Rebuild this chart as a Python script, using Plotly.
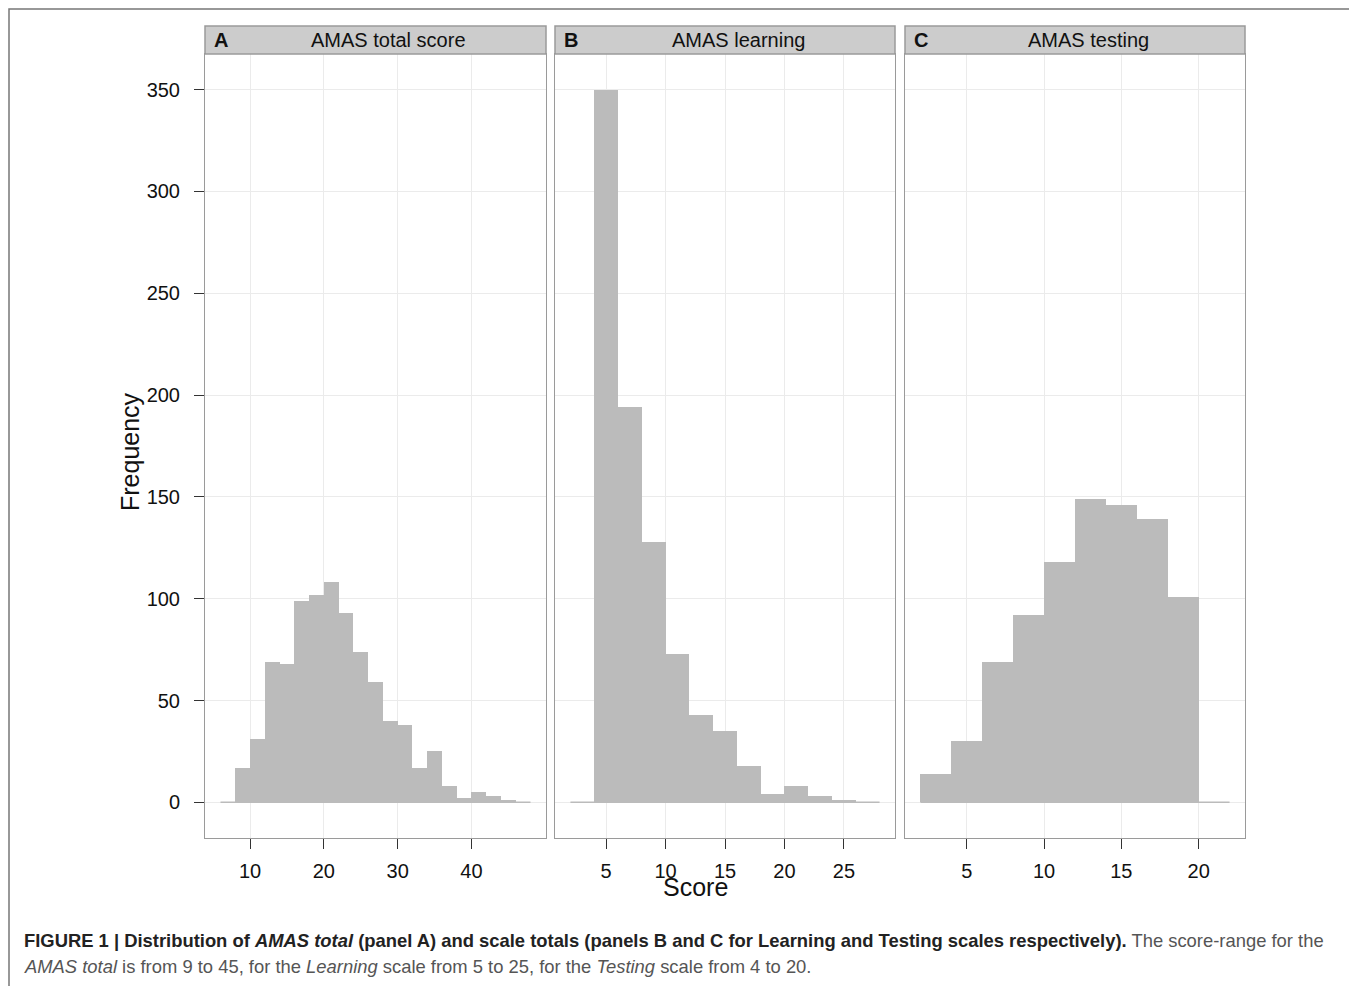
import plotly.graph_objects as go

# ---- data ----
a_bin_edges = [6, 8, 10, 12, 14, 16, 18, 20, 22, 24, 26, 28, 30, 32, 34, 36, 38, 40, 42, 44, 46, 48]
a_counts = [0, 17, 31, 69, 68, 99, 102, 108, 93, 74, 59, 40, 38, 17, 25, 8, 2, 5, 3, 1, 0]

b_bin_edges = [2, 4, 6, 8, 10, 12, 14, 16, 18, 20, 22, 24, 26, 28]
b_counts = [0, 350, 194, 128, 73, 43, 35, 18, 4, 8, 3, 1, 0]

c_bin_edges = [2, 4, 6, 8, 10, 12, 14, 16, 18, 20, 22]
c_counts = [14, 30, 69, 92, 118, 149, 146, 139, 101, 0]

panel_letters = ["A", "B", "C"]
panel_titles = ["AMAS total score", "AMAS learning", "AMAS testing"]
a_ticks = [10, 20, 30, 40]
b_ticks = [5, 10, 15, 20, 25]
c_ticks = [5, 10, 15, 20]
y_ticks = [0, 50, 100, 150, 200, 250, 300, 350]

x_label = "Score"
y_label = "Frequency"
caption_line1 = ("<b>FIGURE 1 | Distribution of <i>AMAS total</i> (panel A) and scale totals "
                 "(panels B and C for Learning and Testing scales respectively).</b>"
                 "<span style='color:#555555'> The score-range for the</span>")
caption_line2 = ("<i>AMAS total</i> is from 9 to 45, for the <i>Learning</i> scale from 5 to 25, "
                 "for the <i>Testing</i> scale from 4 to 20.")

# ---- layout geometry (page pixels; the page body adds an 8px offset) ----
OFF = 8
W, H = 1349, 978
PL, PR, PT, PB = 205, 1245, 54, 838          # plot area in page pixels
L = PL - OFF
T = PT - OFF
R = W - (PR - OFF)
B = H - (PB - OFF)
PW = W - L - R
PH = H - T - B


def px_x(px):
    return (px - OFF - L) / PW


def px_y(py):
    return (PB - py) / PH


BAR = "#bbbbbb"
GRID = "#ebebeb"
BORDER = "#9a9a9a"
FONT = "Liberation Sans, Arial, Helvetica, sans-serif"

panels = [
    (a_bin_edges, a_counts, a_ticks, [3.9, 50.1], (205, 546)),
    (b_bin_edges, b_counts, b_ticks, [0.7, 29.3], (555, 895)),
    (c_bin_edges, c_counts, c_ticks, [1.0, 23.0], (905, 1245)),
]

fig = go.Figure()
layout = dict(
    width=W, height=H,
    margin=dict(l=L, r=R, t=T, b=B, pad=0),
    paper_bgcolor="white", plot_bgcolor="white",
    showlegend=False, bargap=0,
    font=dict(family=FONT, color="#222222"),
)

shapes = []
annotations = []

for i, (edges, counts, ticks, xr, (x0px, x1px)) in enumerate(panels):
    xa = "x" if i == 0 else f"x{i+1}"
    ya = "y" if i == 0 else f"y{i+1}"
    centers = [(edges[k] + edges[k + 1]) / 2 for k in range(len(counts))]
    widths = [edges[k + 1] - edges[k] for k in range(len(counts))]
    fig.add_trace(go.Bar(x=centers, y=counts, width=widths, marker=dict(color=BAR, line=dict(width=0)),
                         xaxis=xa, yaxis=ya, hoverinfo="x+y"))
    # zero baseline drawn across the binned range (as ggplot draws empty bins)
    fig.add_trace(go.Scatter(x=[edges[0], edges[-1]], y=[0, 0], mode="lines",
                             line=dict(color=BAR, width=1.5), xaxis=xa, yaxis=ya, hoverinfo="skip"))
    xkey = "xaxis" if i == 0 else f"xaxis{i+1}"
    ykey = "yaxis" if i == 0 else f"yaxis{i+1}"
    layout[xkey] = dict(
        domain=[px_x(x0px), px_x(x1px)], range=xr, anchor=ya,
        tickvals=ticks, ticks="outside", ticklen=10, tickcolor="#333333", tickwidth=1,
        ticklabelstandoff=5,
        showgrid=True, gridcolor=GRID, gridwidth=1, zeroline=False,
        showline=True, mirror=True, linecolor=BORDER, linewidth=1,
        tickfont=dict(size=20, color="#111111", family=FONT),
    )
    ydict = dict(
        domain=[0, 1], range=[-17.5, 367.5], anchor=xa,
        tickvals=y_ticks, showgrid=True, gridcolor=GRID, gridwidth=1, zeroline=False,
        showline=True, mirror=True, linecolor=BORDER, linewidth=1,
    )
    if i == 0:
        ydict.update(ticks="outside", ticklen=10, tickcolor="#333333", tickwidth=1,
                     ticklabelstandoff=10, showticklabels=True,
                     tickfont=dict(size=20, color="#111111", family=FONT))
    else:
        ydict.update(matches="y", showticklabels=False, ticks="")
    layout[ykey] = ydict

    # strip
    shapes.append(dict(type="rect", xref="paper", yref="paper",
                       x0=px_x(x0px), x1=px_x(x1px), y0=px_y(54), y1=px_y(26),
                       fillcolor="#cccccc", line=dict(color=BORDER, width=1.5), layer="above"))
    annotations.append(dict(xref="paper", yref="paper", x=px_x(x0px + 7), y=px_y(40),
                            text=f"<b>{panel_letters[i]}</b>", showarrow=False,
                            xanchor="left", yanchor="middle",
                            font=dict(size=20, color="#111111", family=FONT)))
    annotations.append(dict(xref="paper", yref="paper", x=px_x((x0px + x1px) / 2 + 13), y=px_y(40),
                            text=panel_titles[i], showarrow=False,
                            xanchor="center", yanchor="middle",
                            font=dict(size=20, color="#111111", family=FONT)))

# outer frame (page border)
shapes.append(dict(type="rect", xref="paper", yref="paper",
                   x0=px_x(9), x1=px_x(1354), y0=px_y(1010), y1=px_y(9),
                   fillcolor="rgba(0,0,0,0)", line=dict(color="#777777", width=1.5)))

# axis titles
annotations.append(dict(xref="paper", yref="paper", x=px_x(695), y=px_y(887), text=x_label,
                        showarrow=False, xanchor="center", yanchor="middle",
                        font=dict(size=25, color="#111111", family=FONT)))
annotations.append(dict(xref="paper", yref="paper", x=px_x(130), y=px_y(452), text=y_label,
                        textangle=-90, showarrow=False, xanchor="center", yanchor="middle",
                        font=dict(size=25, color="#111111", family=FONT)))

# caption
annotations.append(dict(xref="paper", yref="paper", x=px_x(22), y=px_y(940), text=caption_line1,
                        showarrow=False, xanchor="left", yanchor="middle", align="left",
                        font=dict(size=18.4, color="#222222", family=FONT)))
annotations.append(dict(xref="paper", yref="paper", x=px_x(22), y=px_y(967), text=caption_line2,
                        showarrow=False, xanchor="left", yanchor="middle", align="left",
                        font=dict(size=18.4, color="#555555", family=FONT)))

layout["shapes"] = shapes
layout["annotations"] = annotations
fig.update_layout(**layout)

fig.write_html("out.html")
